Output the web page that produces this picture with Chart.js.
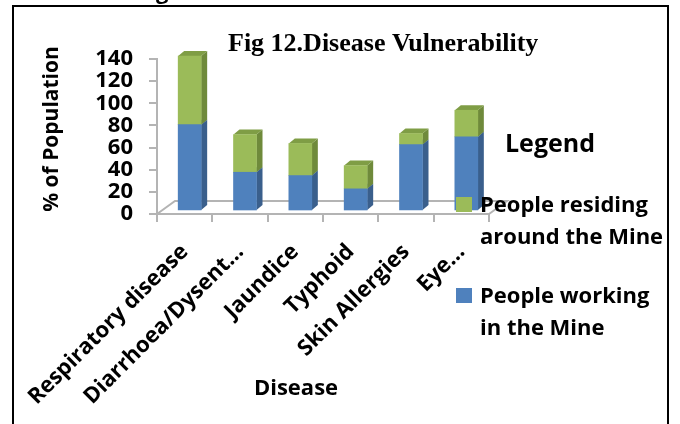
<!DOCTYPE html>
<html>
<head>
<meta charset="utf-8">
<script src="https://cdn.jsdelivr.net/npm/chart.js@4/dist/chart.umd.min.js"></script>
<style>
  html, body { margin: 0; padding: 0; background: #ffffff; }
  #wrap { position: relative; width: 680px; height: 424px; overflow: hidden; }
  canvas { display: block; }
</style>
</head>
<body>
<div id="wrap"><canvas id="chart" width="680" height="424"></canvas></div>
<script>
// Disease categories on the x axis
const categories = ['Respiratory disease', 'Diarrhoea/Dysent\u2026', 'Jaundice', 'Typhoid', 'Skin Allergies', 'Eye\u2026'];
// % of population affected, per group
const workingInMine = [78, 35, 32, 20, 60, 67];
const residingAroundMine = [62, 34, 29, 21, 10, 24];
// value axis ticks
const yTicks = [0, 20, 40, 60, 80, 100, 120, 140];

const chartTitle = 'Fig 12.Disease Vulnerability';
const xTitle = 'Disease';
const yTitle = '% of Population';
const legendTitle = 'Legend';
const seriesNames = ['People working in the Mine', 'People residing around the Mine'];

const SANS = '"Open Sans", "DejaVu Sans", sans-serif';
const AXIS_GRAY = '#b4b4b4';

// faux-3D depth of the floor and of each column
const FLOOR_DEPTH = { dx: 18, dy: -13 };
const BAR_SHIFT = { dx: 5, dy: -3 };
const BAR_DEPTH = { dx: 6, dy: -5 };

const palette = [
  { front: '#4f81bd', side: '#3a5f8c', top: '#4574aa' },
  { front: '#9bbb59', side: '#6f8a3b', top: '#7f9d45' }
];

// floor of the 3D plot and the shifted column faces
const depthPlugin = {
  id: 'depth3d',
  beforeDatasetsDraw(chart) {
    const { ctx, chartArea: a } = chart;
    ctx.save();
    ctx.strokeStyle = AXIS_GRAY;
    ctx.lineWidth = 2;
    ctx.beginPath();
    ctx.moveTo(a.left, a.bottom);
    ctx.lineTo(a.left + FLOOR_DEPTH.dx, a.bottom + FLOOR_DEPTH.dy);
    ctx.lineTo(a.right + FLOOR_DEPTH.dx, a.bottom + FLOOR_DEPTH.dy);
    ctx.lineTo(a.right, a.bottom);
    ctx.stroke();
    ctx.restore();

    ctx.save();
    ctx.translate(BAR_SHIFT.dx, BAR_SHIFT.dy);
    chart.data.datasets.forEach((ds, di) => {
      const meta = chart.getDatasetMeta(di);
      const col = palette[di];
      meta.data.forEach(bar => {
        const p = bar.getProps(['x', 'y', 'base', 'width'], true);
        const l = p.x - p.width / 2, r = p.x + p.width / 2;
        const top = Math.min(p.y, p.base), bot = Math.max(p.y, p.base);
        // right side face
        ctx.fillStyle = col.side;
        ctx.beginPath();
        ctx.moveTo(r, top);
        ctx.lineTo(r + BAR_DEPTH.dx, top + BAR_DEPTH.dy);
        ctx.lineTo(r + BAR_DEPTH.dx, bot + BAR_DEPTH.dy);
        ctx.lineTo(r, bot);
        ctx.closePath();
        ctx.fill();
        // top face
        ctx.fillStyle = col.top;
        ctx.beginPath();
        ctx.moveTo(l, top);
        ctx.lineTo(l + BAR_DEPTH.dx, top + BAR_DEPTH.dy);
        ctx.lineTo(r + BAR_DEPTH.dx, top + BAR_DEPTH.dy);
        ctx.lineTo(r, top);
        ctx.closePath();
        ctx.fill();
      });
    });
  },
  afterDatasetsDraw(chart) {
    chart.ctx.restore();
  }
};

// frame, headings and the legend box
const decorPlugin = {
  id: 'decor',
  afterDraw(chart) {
    const { ctx } = chart;
    ctx.save();
    // outer frame
    ctx.strokeStyle = '#000000';
    ctx.lineWidth = 2;
    ctx.strokeRect(13, 6, 655, 440);

    // tail of the page heading above the frame
    ctx.fillStyle = '#000000';
    ctx.font = 'bold 22px ' + SANS;
    ctx.textAlign = 'left';
    ctx.textBaseline = 'alphabetic';
    ctx.fillText('g', 156, -1);

    // chart title
    ctx.font = 'bold 26px "Liberation Serif", "Times New Roman", serif';
    ctx.fillText(chartTitle, 228, 51);

    // axis titles
    ctx.font = 'bold 22px ' + SANS;
    ctx.textAlign = 'center';
    ctx.textBaseline = 'middle';
    ctx.fillText(xTitle, 296, 389);
    ctx.save();
    ctx.translate(52, 129);
    ctx.rotate(-Math.PI / 2);
    ctx.font = 'bold 21px ' + SANS;
    ctx.fillText(yTitle, 0, 0);
    ctx.restore();

    // legend
    ctx.textAlign = 'left';
    ctx.textBaseline = 'alphabetic';
    ctx.font = 'bold 25px ' + SANS;
    ctx.fillText(legendTitle, 505, 152);

    ctx.font = 'bold 22px ' + SANS;
    const order = [1, 0];
    let y = 212;
    order.forEach(di => {
      const ds = chart.data.datasets[di];
      const words = ds.label.split(' ');
      const lines = [];
      let cur = '';
      words.forEach(w => {
        const t = cur ? cur + ' ' + w : w;
        if (ctx.measureText(t).width > 192 && cur) { lines.push(cur); cur = w; } else { cur = t; }
      });
      lines.push(cur);
      ctx.fillStyle = ds.backgroundColor;
      ctx.fillRect(456, y - 15, 16, 15);
      ctx.fillStyle = '#000000';
      lines.forEach((ln, i) => ctx.fillText(ln, 480, y + i * 31.5));
      y += 91;
    });
    ctx.restore();
  }
};

new Chart(document.getElementById('chart'), {
  type: 'bar',
  data: {
    labels: categories,
    datasets: [
      { label: seriesNames[0], data: workingInMine, backgroundColor: palette[0].front, clip: false },
      { label: seriesNames[1], data: residingAroundMine, backgroundColor: palette[1].front, clip: false }
    ]
  },
  options: {
    responsive: false,
    animation: false,
    events: [],
    barThickness: 23,
    layout: { padding: { left: 13, right: 191, top: 59, bottom: 0 } },
    plugins: {
      legend: { display: false },
      title: { display: false },
      tooltip: { enabled: false }
    },
    scales: {
      x: {
        stacked: true,
        grid: { drawOnChartArea: false, drawTicks: true, tickLength: 8, color: AXIS_GRAY, lineWidth: 2 },
        border: { display: true, color: AXIS_GRAY, width: 2 },
        ticks: {
          color: '#000000',
          font: { family: SANS, size: 22, weight: 'bold' },
          minRotation: 45, maxRotation: 45, padding: 17, autoSkip: false
        },
        afterFit(s) { s.height = 210; }
      },
      y: {
        stacked: true,
        min: yTicks[0],
        max: yTicks[yTicks.length - 1],
        afterBuildTicks(s) { s.ticks = yTicks.map(v => ({ value: v })); },
        grid: { drawOnChartArea: false, drawTicks: true, tickLength: 8, color: AXIS_GRAY, lineWidth: 2 },
        border: { display: true, color: AXIS_GRAY, width: 2 },
        ticks: {
          color: '#000000',
          font: { family: SANS, size: 22, weight: 'bold' },
          padding: 16,
          autoSkip: false
        },
        afterFit(s) { s.width = 144; }
      }
    }
  },
  plugins: [depthPlugin, decorPlugin]
});
</script>
</body>
</html>
